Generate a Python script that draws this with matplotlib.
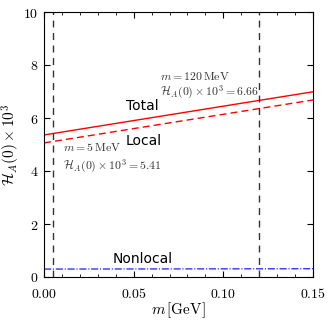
import numpy as np
import matplotlib
matplotlib.use("Agg")
import matplotlib.pyplot as plt
from matplotlib.ticker import MultipleLocator, FuncFormatter

plt.rcParams['mathtext.fontset'] = 'cm'

m_vals = [0.0, 0.15]
total_vals = [5.36, 6.99]
local_vals = [5.06, 6.68]
nonlocal_vals = [0.30, 0.31]
m_marks = [0.005, 0.12]
xticks = [0.00, 0.05, 0.10, 0.15]
yticks = [0, 2, 4, 6, 8, 10]

fig = plt.figure(figsize=(3.32, 3.21), dpi=100)
ax = fig.add_axes([44/332, 44/321, 269/332, 265/321])

ax.plot(m_vals, total_vals, color='red', lw=1.0)
ax.plot(m_vals, local_vals, color='red', lw=1.0, ls=(0, (5, 3)))
ax.plot(m_vals, nonlocal_vals, color='blue', lw=0.8, ls='-.')
for xm in m_marks:
    ax.axvline(xm, color='#333333', lw=1.0, ls=(0, (5, 4)))

ax.set_xlim(0, 0.15)
ax.set_ylim(0, 10)
ax.set_xticks(xticks)
ax.set_yticks(yticks)
ax.xaxis.set_minor_locator(MultipleLocator(0.01))
ax.xaxis.set_major_formatter(FuncFormatter(lambda v, p: r'$%.2f$' % v))
ax.yaxis.set_major_formatter(FuncFormatter(lambda v, p: r'$%d$' % v))
ax.tick_params(which='both', direction='in', top=True, right=True, labelsize=10)
ax.tick_params(which='major', length=4)
ax.tick_params(which='minor', length=2)
ax.tick_params(axis='x', pad=7)
ax.tick_params(axis='y', pad=4)

ax.set_xlabel(r'$m\,[\mathrm{GeV}]$', fontsize=11, labelpad=0)
ax.set_ylabel(r'$\mathcal{H}_A(0)\times 10^3$', fontsize=11, labelpad=1)

ax.text(0.0645, 7.55, r'$m = 120\,\mathrm{MeV}$', fontsize=8.5, color='#333333', va='center')
ax.text(0.0645, 6.95, r'$\mathcal{H}_A(0)\times 10^3 = 6.66$', fontsize=8.5, color='#333333', va='center')
ax.text(0.0106, 4.88, r'$m = 5\,\mathrm{MeV}$', fontsize=8.5, color='#333333', va='center')
ax.text(0.0106, 4.17, r'$\mathcal{H}_A(0)\times 10^3 = 5.41$', fontsize=8.5, color='#333333', va='center')
ax.text(0.0455, 6.45, 'Total', fontsize=10, va='center')
ax.text(0.0455, 5.15, 'Local', fontsize=10, va='center')
ax.text(0.0385, 0.68, 'Nonlocal', fontsize=10, va='center')

fig.savefig('out.png', dpi=100)
